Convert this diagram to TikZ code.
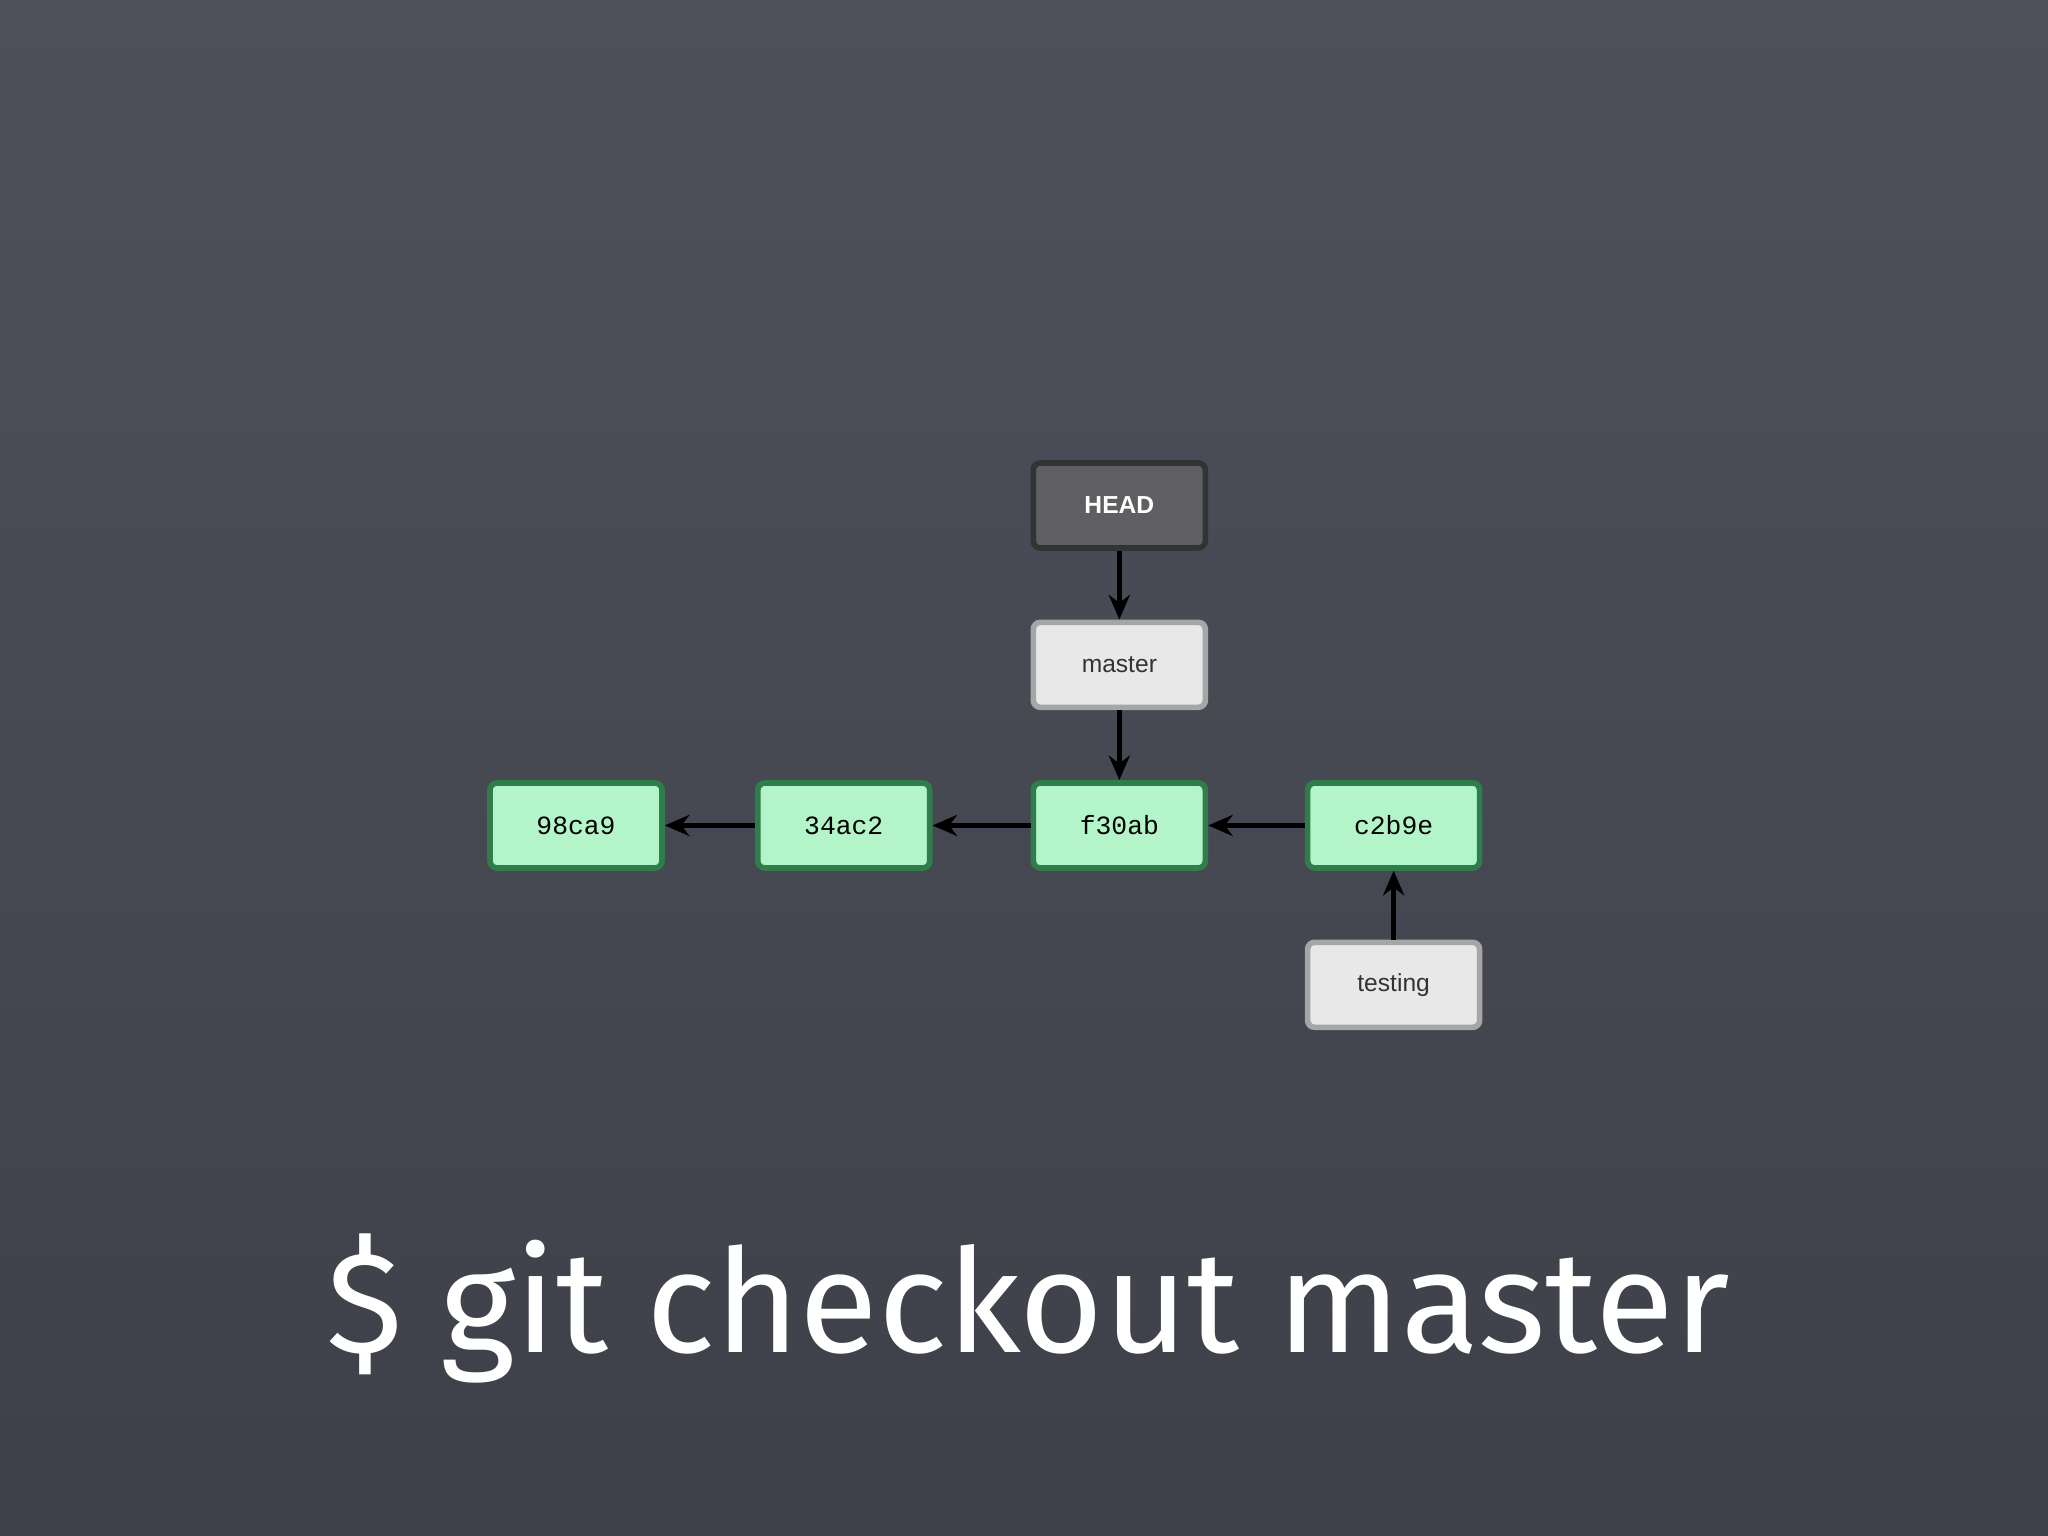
\documentclass[tikz,border=0pt]{standalone}
\usepackage{fontspec}
\setmainfont{Liberation Sans}
\newfontfamily\monof{Liberation Mono}
\newfontfamily\bigf{Fira Sans}
\usetikzlibrary{arrows.meta}
\definecolor{bgtop}{HTML}{4E515C}
\definecolor{bgbot}{HTML}{3E4049}
\definecolor{cfill}{HTML}{B3F5C9}
\definecolor{cdraw}{HTML}{2E7D4A}
\definecolor{hfill}{HTML}{5F5F61}
\definecolor{bfill}{HTML}{E8E8E8}
\tikzset{
 commit/.style={draw=cdraw,line width=1.6pt,fill=cfill,rounded corners=2pt,minimum width=1.72cm,minimum height=0.85cm,font=\monof\fontsize{7.5}{9}\selectfont,text=black},
 headbox/.style={draw=black!80,line width=1.6pt,fill=hfill,rounded corners=2pt,minimum width=1.72cm,minimum height=0.85cm,font=\bfseries\fontsize{7}{9}\selectfont,text=white},
 branch/.style={draw=gray!70,line width=1.6pt,fill=bfill,rounded corners=2pt,minimum width=1.72cm,minimum height=0.85cm,font=\fontsize{7}{9}\selectfont,text=black!80},
 conn/.style={-{Stealth[length=7pt,width=6pt]},line width=1.3pt,black}
}
\begin{document}
\begin{tikzpicture}[x=0.01306cm,y=-0.01306cm]
\useasboundingbox (0,0) rectangle (1568,1176);
\shade[top color=bgtop,bottom color=bgbot] (0,0) rectangle (1568,1176);
\node[headbox] (head) at (857,387) {HEAD};
\node[branch] (master) at (857,509) {master};
\node[commit] (a) at (441,632) {98ca9};
\node[commit] (b) at (646,632) {34ac2};
\node[commit] (c) at (857,632) {f30ab};
\node[commit] (d) at (1067,632) {c2b9e};
\node[branch] (testing) at (1067,754) {testing};
\draw[conn] (head) -- (master);
\draw[conn] (master) -- (c);
\draw[conn] (b) -- (a);
\draw[conn] (c) -- (b);
\draw[conn] (d) -- (c);
\draw[conn] (testing) -- (d);
\node[font=\bigf\fontsize{41}{48}\selectfont,text=white] (cmd) at (787,1002) {\$ git checkout master};
\end{tikzpicture}
\end{document}
